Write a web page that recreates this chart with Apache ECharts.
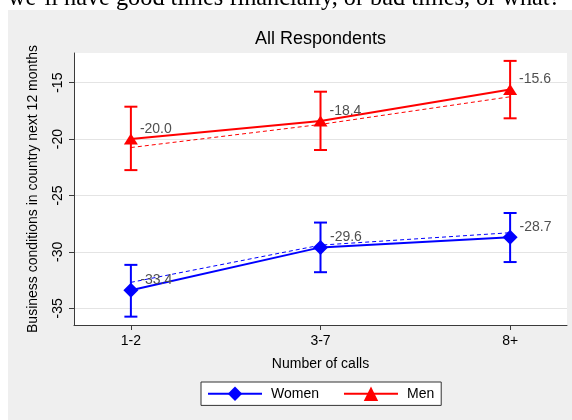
<!DOCTYPE html>
<html>
<head>
<meta charset="utf-8">
<script src="https://cdn.jsdelivr.net/npm/echarts@6/dist/echarts.min.js"></script>
<style>
  html, body { margin: 0; padding: 0; background: #fff; }
  #chart { width: 572px; height: 420px; }
</style>
</head>
<body>
<div id="chart"></div>
<script>
// Survey groups by number of calls
const categories = ['1-2', '3-7', '8+'];

// Group means
const womenMean = [-33.4, -29.6, -28.7];
const menMean = [-20.0, -18.4, -15.6];

// Confidence interval bounds
const womenLow = [-35.74, -31.8, -30.9];
const womenHigh = [-31.15, -27.4, -26.55];
const menLow = [-22.75, -20.97, -18.16];
const menHigh = [-17.13, -15.8, -13.07];

// Fitted values (dashed)
const womenFit = [-32.7, -29.4, -28.3];
const menFit = [-20.75, -18.7, -16.25];

// Axis ticks
const yTicks = [-35, -30, -25, -20, -15];
const xTicks = [1, 2, 3];

const FONT = '"Liberation Sans", Arial, sans-serif';
const BLUE = '#0000ff';
const RED = '#ff0000';
const AXIS = '#3a3a3a';

const pts = arr => arr.map((v, i) => [i + 1, v]);
const bars = (lo, hi) => lo.map((v, i) => [i + 1, v, hi[i]]);

function errorBar(color) {
  return function (params, api) {
    const x = api.value(0);
    const pLo = api.coord([x, api.value(1)]);
    const pHi = api.coord([x, api.value(2)]);
    const hw = 6.5;
    const style = { stroke: color, lineWidth: 2, fill: null };
    return {
      type: 'group',
      children: [
        { type: 'line', shape: { x1: pLo[0], y1: pLo[1], x2: pHi[0], y2: pHi[1] }, style },
        { type: 'line', shape: { x1: pLo[0] - hw, y1: pLo[1], x2: pLo[0] + hw, y2: pLo[1] }, style },
        { type: 'line', shape: { x1: pHi[0] - hw, y1: pHi[1], x2: pHi[0] + hw, y2: pHi[1] }, style }
      ]
    };
  };
}

const valueLabel = {
  show: true,
  position: 'right',
  distance: 2,
  offset: [0, -10],
  color: '#505050',
  fontSize: 14,
  fontFamily: FONT,
  formatter: p => p.value[1].toFixed(1)
};

const chart = echarts.init(document.getElementById('chart'), null, { renderer: 'canvas' });

chart.setOption({
  animation: false,
  backgroundColor: '#efefef',
  textStyle: { fontFamily: FONT },
  graphic: [
    { type: 'rect', shape: { x: 0, y: 0, width: 572, height: 10 }, style: { fill: '#fff' }, silent: true },
    { type: 'rect', shape: { x: 0, y: 0, width: 8, height: 420 }, style: { fill: '#fff' }, silent: true },
    {
      type: 'text', x: 8, y: -1.5, silent: true,
      style: {
        text: "we\u2019ll have good times financially, or bad times, or what?",
        fontSize: 24.3, fontFamily: '"Liberation Serif", "Times New Roman", serif',
        fill: '#000', verticalAlign: 'middle', align: 'left'
      }
    },
    {
      type: 'text', x: 320.5, y: 39, silent: true,
      style: {
        text: 'All Respondents', fontSize: 18, fontFamily: FONT,
        fill: '#000', align: 'center', verticalAlign: 'middle'
      }
    }
  ],
  grid: {
    left: 74, top: 53, right: 5, bottom: 95,
    show: true, backgroundColor: '#fff', borderWidth: 0
  },
  legend: {
    left: 201, top: 382,
    orient: 'horizontal',
    padding: [4.5, 7, 4.5, 6],
    itemWidth: 54, itemHeight: 18, itemGap: 24,
    backgroundColor: '#fff', borderColor: '#333', borderWidth: 1,
    textStyle: { fontSize: 14, color: '#000', fontFamily: FONT, padding: [0, 0, 0, 4] },
    data: ['Women', 'Men']
  },
  xAxis: {
    type: 'value', min: 0.7, max: 3.3,
    name: 'Number of calls', nameLocation: 'middle', nameGap: 32,
    nameTextStyle: { fontSize: 14, color: '#000', fontFamily: FONT },
    axisLine: { show: true, lineStyle: { color: AXIS, width: 1 } },
    axisTick: { show: true, length: 5, lineStyle: { color: AXIS }, customValues: xTicks },
    axisLabel: {
      show: true, margin: 9, fontSize: 14, color: '#000', customValues: xTicks,
      formatter: v => categories[Math.round(v) - 1] || ''
    },
    splitLine: { show: false }
  },
  yAxis: {
    type: 'value', min: -36.48, max: -12.37,
    name: 'Business conditions in country next 12 months',
    nameLocation: 'middle', nameGap: 34, nameRotate: 90,
    nameTextStyle: { fontSize: 14, color: '#000', fontFamily: FONT },
    axisLine: { show: true, lineStyle: { color: AXIS, width: 1 } },
    axisTick: { show: true, length: 5, lineStyle: { color: AXIS }, customValues: yTicks },
    axisLabel: {
      show: true, margin: 9, fontSize: 14, color: '#000', rotate: 90, customValues: yTicks,
      formatter: v => String(v)
    },
    splitLine: { show: true, lineStyle: { color: '#e4e4e4', width: 1 } }
  },
  series: [
    {
      name: 'WomenFit', type: 'line', data: pts(womenFit), symbol: 'none', silent: true,
      lineStyle: { color: BLUE, width: 1, type: [4, 3] }, z: 2
    },
    {
      name: 'MenFit', type: 'line', data: pts(menFit), symbol: 'none', silent: true,
      lineStyle: { color: RED, width: 1, type: [4, 3] }, z: 2
    },
    {
      name: 'WomenCI', type: 'custom', renderItem: errorBar(BLUE), data: bars(womenLow, womenHigh),
      encode: { x: 0, y: [1, 2] }, z: 3, silent: true
    },
    {
      name: 'MenCI', type: 'custom', renderItem: errorBar(RED), data: bars(menLow, menHigh),
      encode: { x: 0, y: [1, 2] }, z: 3, silent: true
    },
    {
      name: 'Women', type: 'line', data: pts(womenMean),
      symbol: 'diamond', symbolSize: 15,
      itemStyle: { color: BLUE }, lineStyle: { color: BLUE, width: 2 },
      label: valueLabel, z: 4
    },
    {
      name: 'Men', type: 'line', data: pts(menMean),
      symbol: 'triangle', symbolSize: [14, 11],
      itemStyle: { color: RED }, lineStyle: { color: RED, width: 2 },
      label: valueLabel, z: 4
    }
  ]
});
</script>
</body>
</html>
